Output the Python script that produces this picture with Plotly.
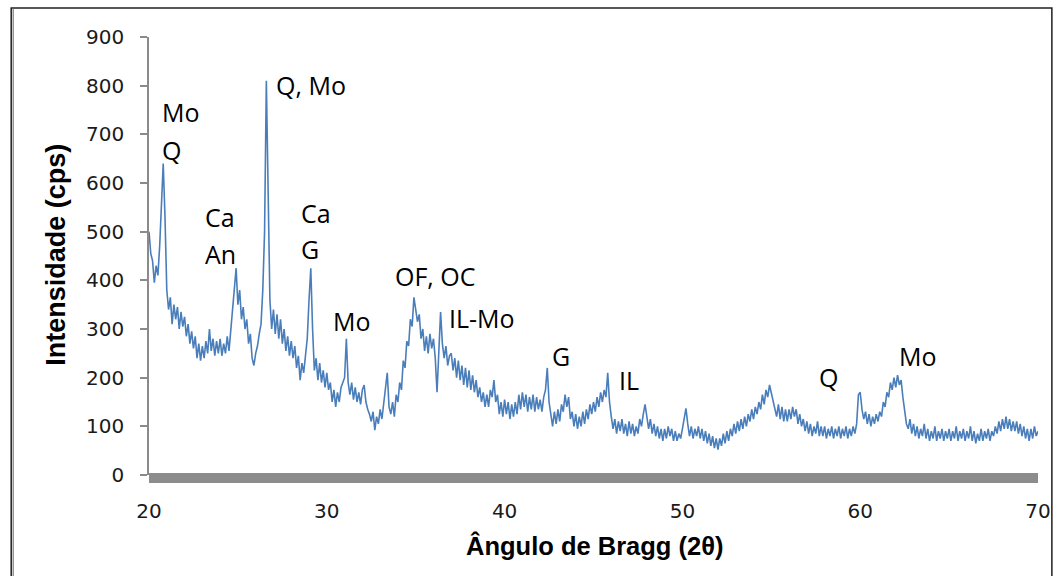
import numpy as np
import plotly.graph_objects as go

# Diffractogram: intensity (cps) every 0.1 degree 2-theta, 20.0 -> 70.0
two_theta_start = 20.0
two_theta_step = 0.1

intensity = [
    # 20.x
    500, 455, 440, 395, 430, 410, 470, 560, 640, 530,
    # 21.x
    380, 340, 365, 310, 350, 320, 345, 300, 335, 305,
    # 22.x
    325, 285, 310, 270, 295, 260, 285, 240, 270, 235,
    # 23.x
    265, 240, 275, 250, 300, 255, 280, 245, 275, 250,
    # 24.x
    280, 245, 270, 250, 285, 255, 300, 340, 390, 425,
    # 25.x
    350, 380, 320, 345, 300, 320, 270, 290, 240, 225,
    # 26.x
    250, 265, 290, 310, 380, 500, 810, 560, 360, 300,
    # 27.x
    340, 290, 330, 280, 320, 270, 300, 255, 285, 245,
    # 28.x
    275, 240, 265, 220, 245, 195, 230, 210, 250, 280,
    # 29.x
    360, 425, 300, 215, 240, 195, 230, 190, 215, 180,
    # 30.x
    210, 175, 190, 150, 175, 140, 170, 150, 180, 190,
    # 31.x
    200, 280, 190, 165, 190, 155, 180, 150, 170, 145,
    # 32.x
    175, 185, 150, 135, 125, 110, 130, 92, 120, 105,
    # 33.x
    135, 115, 150, 170, 210, 140, 125, 150, 120, 165,
    # 34.x
    150, 190, 175, 235, 220, 275, 265, 320, 305, 365,
    # 35.x
    340, 315, 330, 280, 300, 255, 285, 250, 290, 260,
    # 36.x
    280, 240, 170, 260, 335, 270, 240, 265, 225, 245,
    # 37.x
    250, 215, 240, 200, 235, 195, 225, 185, 220, 180,
    # 38.x
    215, 175, 205, 170, 195, 160, 180, 150, 170, 140,
    # 39.x
    165, 140, 175, 160, 195, 150, 165, 125, 150, 120,
    # 40.x
    155, 125, 150, 115, 145, 120, 150, 125, 165, 135,
    # 41.x
    170, 140, 165, 130, 160, 135, 165, 130, 160, 135,
    # 42.x
    155, 130, 160, 175, 220, 150, 120, 100, 130, 105,
    # 43.x
    135, 110, 145, 130, 165, 140, 160, 115, 130, 100,
    # 44.x
    125, 95, 120, 100, 130, 105, 135, 115, 145, 125,
    # 45.x
    150, 130, 160, 140, 170, 150, 175, 160, 210, 150,
    # 46.x
    120, 95, 115, 85, 110, 90, 115, 85, 105, 80,
    # 47.x
    110, 85, 105, 80, 100, 85, 115, 100, 125, 145,
    # 48.x
    120, 95, 115, 85, 105, 80, 100, 75, 95, 70,
    # 49.x
    95, 75, 100, 80, 95, 70, 90, 70, 85, 75,
    # 50.x
    95, 120, 137, 105, 80, 100, 75, 95, 80, 100,
    # 51.x
    75, 95, 70, 90, 65, 85, 60, 80, 55, 75,
    # 52.x
    52, 75, 60, 85, 65, 90, 70, 95, 80, 105,
    # 53.x
    85, 110, 90, 115, 95, 120, 100, 125, 110, 135,
    # 54.x
    115, 140, 125, 150, 135, 165, 145, 175, 160, 185,
    # 55.x
    170, 150, 140, 120, 145, 115, 140, 110, 135, 110,
    # 56.x
    135, 115, 140, 120, 135, 105, 125, 100, 115, 90,
    # 57.x
    110, 85, 105, 80, 100, 85, 110, 80, 100, 80,
    # 58.x
    100, 75, 95, 80, 100, 75, 95, 80, 100, 75,
    # 59.x
    95, 80, 100, 75, 95, 80, 100, 85, 105, 165,
    # 60.x
    170, 135, 115, 130, 105, 125, 100, 120, 105, 125,
    # 61.x
    110, 130, 120, 150, 140, 170, 160, 190, 175, 200,
    # 62.x
    180, 205, 185, 195, 160, 130, 105, 95, 115, 85,
    # 63.x
    105, 80, 100, 75, 95, 80, 105, 75, 95, 70,
    # 64.x
    90, 75, 100, 70, 90, 75, 95, 70, 90, 75,
    # 65.x
    95, 70, 90, 75, 100, 70, 90, 75, 95, 70,
    # 66.x
    90, 75, 100, 70, 90, 65, 85, 70, 95, 70,
    # 67.x
    90, 75, 95, 70, 90, 80, 100, 85, 110, 90,
    # 68.x
    115, 95, 120, 95, 115, 90, 110, 90, 110, 85,
    # 69.x
    105, 80, 100, 75, 95, 70, 95, 75, 100, 80,
    # 70.0
    90,
]

two_theta = np.round(two_theta_start + two_theta_step * np.arange(len(intensity)), 1)

# Phase labels: (text, 2-theta of left edge, intensity at text middle)
phase_labels = ["Mo", "Q", "Q, Mo", "Ca", "An", "Ca", "G", "Mo",
                "OF, OC", "IL-Mo", "G", "IL", "Q", "Mo"]
phase_x = [20.61, 20.61, 27.02, 23.01, 23.01, 28.42, 28.42, 30.26,
           33.71, 36.78, 42.57, 46.31, 57.57, 62.08]
phase_y = [746, 668, 801, 530, 454, 538, 464, 316,
           409, 323, 244, 195, 201, 245]

x_ticks = [20, 30, 40, 50, 60, 70]
y_ticks = [0, 100, 200, 300, 400, 500, 600, 700, 800, 900]

fig = go.Figure()
fig.add_trace(go.Scatter(
    x=two_theta, y=intensity, mode="lines",
    line=dict(color="#4A7EBB", width=1.6),
    hoverinfo="skip", showlegend=False,
))

for txt, xv, yv in zip(phase_labels, phase_x, phase_y):
    fig.add_annotation(
        x=xv, y=yv, xref="x", yref="y", text=txt, showarrow=False,
        xanchor="left", yanchor="middle",
        font=dict(family="Open Sans", size=25, color="#000000"),
    )

# axis titles
fig.add_annotation(
    x=-0.105, y=0.502, xref="paper", yref="paper",
    text="<b>Intensidade (cps)</b>", textangle=-90, showarrow=False,
    xanchor="center", yanchor="middle",
    font=dict(family="Liberation Sans", size=27, color="#000000"),
)
fig.add_annotation(
    x=0.5006, y=-0.16, xref="paper", yref="paper",
    text="<b>Ângulo de Bragg (2θ)</b>", showarrow=False,
    xanchor="center", yanchor="middle",
    font=dict(family="Liberation Sans", size=25.5, color="#000000"),
)

# thick grey base bar along the x axis
fig.add_shape(type="rect", xref="paper", yref="paper",
              x0=0, x1=1, y0=-0.0183, y1=0.0046,
              line=dict(width=0), fillcolor="#8C8C8C", layer="above")

# outer chart frame
fig.add_shape(type="rect", xref="paper", yref="paper",
              x0=-0.155, x1=1.0156, y0=-0.27, y1=1.0662,
              line=dict(color="#202020", width=1.5), fillcolor="rgba(0,0,0,0)")
fig.add_shape(type="line", xref="paper", yref="paper",
              x0=-0.1528, x1=-0.1528, y0=-0.27, y1=1.0662,
              line=dict(color="#606060", width=1))

fig.update_layout(
    width=1063, height=576,
    margin=dict(l=149, r=17, t=37, b=101),
    paper_bgcolor="white", plot_bgcolor="white",
    xaxis=dict(
        range=[20, 70], tickvals=x_ticks, ticktext=[str(v) for v in x_ticks],
        showgrid=False, zeroline=False, showline=False, ticks="",
        ticklabelstandoff=22, ticklabeloverflow="allow",
        tickfont=dict(family="DejaVu Sans", size=20, color="#1a1a1a"),
    ),
    yaxis=dict(
        range=[0, 900], tickvals=y_ticks, ticktext=[str(v) for v in y_ticks],
        showgrid=False, zeroline=False, showline=True,
        linecolor="#8A8A8A", linewidth=1.5,
        ticks="outside", ticklen=7, tickwidth=1.5, tickcolor="#8A8A8A",
        ticklabelstandoff=12,
        tickfont=dict(family="DejaVu Sans", size=20, color="#1a1a1a"),
    ),
)

fig.write_html("out.html")
